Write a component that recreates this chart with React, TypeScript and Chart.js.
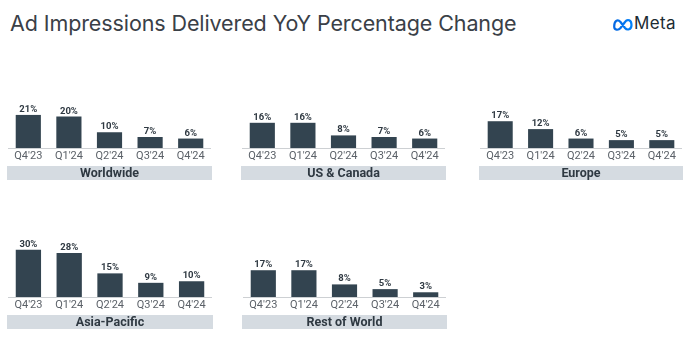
import React, { useEffect, useRef } from "react";
import { Chart, registerables } from "chart.js";

Chart.register(...registerables);

const quarters = ["Q4'23", "Q1'24", "Q2'24", "Q3'24", "Q4'24"];
const worldwide = [21, 20, 10, 7, 6];
const usCanada = [16, 16, 8, 7, 6];
const europe = [17, 12, 6, 5, 5];
const asiaPacific = [30, 28, 15, 9, 10];
const restOfWorld = [17, 17, 8, 5, 3];
const regionNames = ["Worldwide", "US & Canada", "Europe", "Asia-Pacific", "Rest of World"];
const regionValues = [worldwide, usCanada, europe, asiaPacific, restOfWorld];
const yMax = 40;

const BAR = "#334450";
const BAND = "#d5dbe1";
const TEXT = "#2f3942";

// panel layout (left, baseline y, width)
const panels = [
  { left: 8, base: 148, width: 203 },
  { left: 242, base: 148, width: 203 },
  { left: 480, base: 148, width: 202 },
  { left: 8, base: 297, width: 204 },
  { left: 243, base: 297, width: 203 },
];
const AREA_H = 63;
const AXIS_H = 18;

const valueLabels = {
  id: "valueLabels",
  afterDatasetsDraw(chart: any) {
    const ctx = chart.ctx;
    const meta = chart.getDatasetMeta(0);
    const data = chart.data.datasets[0].data as number[];
    ctx.save();
    ctx.font = "bold 9.5px Roboto";
    ctx.fillStyle = TEXT;
    ctx.textAlign = "center";
    ctx.textBaseline = "alphabetic";
    meta.data.forEach((bar: any, i: number) => {
      ctx.fillText(data[i] + "%", bar.x, bar.y - 3);
    });
    ctx.restore();
  },
};

function Panel({ idx }: { idx: number }) {
  const ref = useRef<HTMLCanvasElement>(null);
  const p = panels[idx];
  useEffect(() => {
    const chart = new Chart(ref.current!, {
      type: "bar",
      data: {
        labels: quarters,
        datasets: [
          {
            data: regionValues[idx],
            backgroundColor: BAR,
            barPercentage: 0.62,
            categoryPercentage: 1,
          },
        ],
      },
      options: {
        animation: false,
        responsive: false,
        maintainAspectRatio: false,
        layout: { padding: 0 },
        plugins: { legend: { display: false }, tooltip: { enabled: false } },
        scales: {
          x: {
            grid: { display: false, drawTicks: false },
            border: { display: true, color: "#cdd0d3", width: 1 },
            ticks: {
              color: "#5b6168",
              font: { family: "Roboto", size: 11 },
              padding: 1.5,
              maxRotation: 0,
              autoSkip: false,
            },
            afterFit: (s: any) => {
              s.height = AXIS_H;
            },
          },
          y: { display: false, min: 0, max: yMax },
        },
      },
      plugins: [valueLabels],
    });
    return () => chart.destroy();
  }, [idx]);
  const top = p.base - AREA_H;
  return (
    <>
      <canvas
        ref={ref}
        width={p.width}
        height={AREA_H + AXIS_H}
        style={{ position: "absolute", left: p.left, top, width: p.width, height: AREA_H + AXIS_H }}
      />
      <div
        style={{
          position: "absolute",
          left: p.left - 1,
          top: p.base + 18,
          width: p.width + 2,
          height: 14,
          background: BAND,
          display: "flex",
          alignItems: "center",
          justifyContent: "center",
          font: "bold 12.5px Roboto",
          color: TEXT,
          lineHeight: "14px",
        }}
      >
        {regionNames[idx]}
      </div>
    </>
  );
}

export default function App() {
  return (
    <div
      style={{
        position: "absolute",
        left: 0,
        top: 0,
        width: 700,
        height: 352,
        background: "#ffffff",
        overflow: "hidden",
      }}
    >
      <div
        style={{
          position: "absolute",
          left: 10,
          top: 12,
          font: "21.5px Inter",
          lineHeight: "22px",
          letterSpacing: "-0.1px",
          color: "#3a4047",
          whiteSpace: "nowrap",
        }}
      >
        Ad Impressions Delivered YoY Percentage Change
      </div>
      <svg
        style={{ position: "absolute", left: 612, top: 17 }}
        width={22}
        height={15}
        viewBox="0 0 22 15"
      >
        <defs>
          <linearGradient id="mg" x1="0" y1="0" x2="1" y2="0">
            <stop offset="0" stopColor="#0668E1" />
            <stop offset="1" stopColor="#0081FB" />
          </linearGradient>
        </defs>
        <path
          d="M2.2,9.5 C2.2,4 5.5,1.5 8.5,5 L13,11 C15,13.5 19.5,13 19.5,8 C19.5,3 15.5,1.5 13,5 L8.5,11 C6.5,13.5 2.2,13.5 2.2,9.5 Z"
          fill="none"
          stroke="url(#mg)"
          strokeWidth={2.2}
          strokeLinejoin="round"
        />
      </svg>
      <div
        style={{
          position: "absolute",
          left: 634,
          top: 15,
          font: "17px Inter",
          lineHeight: "17px",
          letterSpacing: "0.4px",
          color: "#1c2b33",
        }}
      >
        Meta
      </div>
      {regionNames.map((_, i) => (
        <Panel key={i} idx={i} />
      ))}
    </div>
  );
}
